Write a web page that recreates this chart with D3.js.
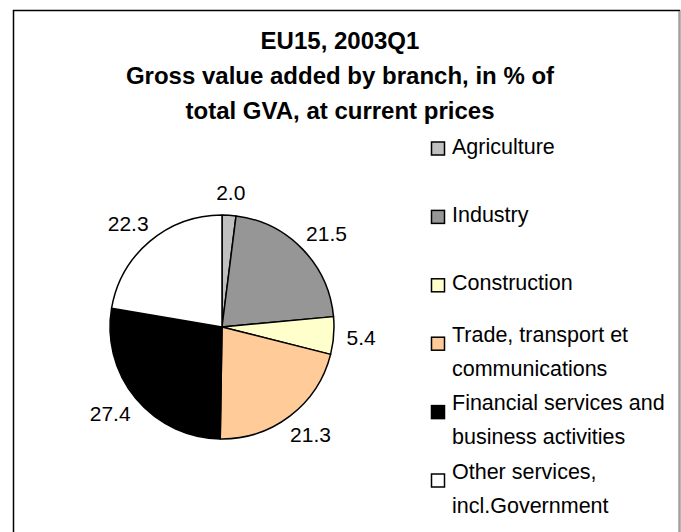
<!DOCTYPE html>
<html>
<head>
<meta charset="utf-8">
<script src="https://cdn.jsdelivr.net/npm/d3@7/dist/d3.min.js"></script>
<style>
  body { margin: 0; background: #fff; }
  svg { display: block; font-family: "Liberation Sans", Arial, sans-serif; }
</style>
</head>
<body>
<div id="chart"></div>
<script>
// data
const branches = ["Agriculture", "Industry", "Construction", "Trade, transport et communications",
  "Financial services and business activities", "Other services, incl.Government"];
const legendLines = [["Agriculture"], ["Industry"], ["Construction"],
  ["Trade, transport et", "communications"], ["Financial services and", "business activities"],
  ["Other services,", "incl.Government"]];
const shares = [2.0, 21.5, 5.4, 21.3, 27.4, 22.3];
const sliceColors = ["#C0C0C0", "#969696", "#FFFFCC", "#FFCC99", "#000000", "#FFFFFF"];
const titleLines = ["EU15, 2003Q1", "Gross value added by branch, in % of", "total GVA, at current prices"];

const W = 681, H = 532;
const svg = d3.select("#chart").append("svg").attr("width", W).attr("height", H);

// chart area frame
svg.append("rect").attr("x", 13.5).attr("y", 10.5).attr("width", 666).attr("height", 540)
  .attr("fill", "#fff").attr("stroke", "#000").attr("stroke-width", 1.5);
svg.append("line").attr("x1", 679.5).attr("x2", 679.5).attr("y1", 11).attr("y2", H)
  .attr("stroke", "#a0a0a0").attr("stroke-width", 1.5);

// title
svg.append("text")
  .attr("x", 340).attr("y", 49)
  .attr("text-anchor", "middle")
  .style("font-size", "24px").style("font-weight", "bold")
  .selectAll("tspan").data(titleLines).enter().append("tspan")
  .attr("x", 340).attr("dy", (d, i) => i === 0 ? 0 : 35)
  .text(d => d);

// pie
const cx = 222, cy = 327, r = 112;
const g = svg.append("g").attr("transform", `translate(${cx},${cy})`);
const pie = d3.pie().sort(null).value(d => d)(shares);
const arc = d3.arc().innerRadius(0).outerRadius(r);

g.selectAll("path").data(pie).enter().append("path")
  .attr("d", arc)
  .attr("fill", (d, i) => sliceColors[i])
  .attr("stroke", "#000").attr("stroke-width", 1.5).attr("stroke-linejoin", "round");

// labels outside
const labelSize = 21;
g.selectAll(".lbl").data(pie).enter().append("text")
  .attr("class", "lbl")
  .style("font-size", labelSize + "px")
  .attr("text-anchor", "middle")
  .attr("dominant-baseline", "central")
  .text(d => d3.format(".1f")(d.value))
  .each(function(d) {
    const a = (d.startAngle + d.endAngle) / 2;
    const w = this.getComputedTextLength(), h = 20;
    const px = (r + 13) * Math.sin(a), py = -(r + 13) * Math.cos(a);
    d3.select(this)
      .attr("x", px + (w / 2) * Math.sin(a))
      .attr("y", py - (h / 2) * Math.cos(a));
  });

// legend
const ly = d3.scalePoint().domain(branches).range([146, 488]);
const legendSize = 21.5, lineH = 34;
const legend = svg.append("g");
branches.forEach((b, i) => {
  const lines = legendLines[i];
  const center = ly(b);
  const firstCap = center - (lines.length - 1) * lineH / 2;
  const row = legend.append("g");
  const sqC = firstCap + (lines.length > 1 ? 10 : 3);
  row.append("rect")
    .attr("x", 431.5).attr("y", sqC - 7)
    .attr("width", 13).attr("height", 13)
    .attr("fill", sliceColors[i]).attr("stroke", "#000").attr("stroke-width", 1.5);
  row.append("text")
    .style("font-size", legendSize + "px")
    .selectAll("tspan").data(lines).enter().append("tspan")
    .attr("x", 452).attr("y", (d, k) => firstCap + 7.5 + k * lineH)
    .text(d => d);
});
</script>
</body>
</html>
